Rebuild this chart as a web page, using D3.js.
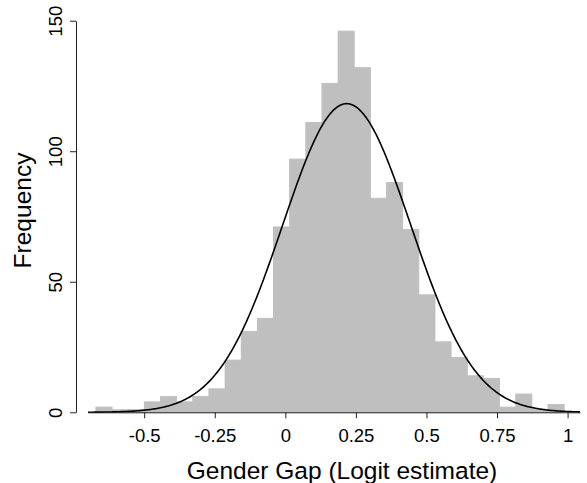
<!DOCTYPE html>
<html><head><meta charset="utf-8">
<script src="https://cdn.jsdelivr.net/npm/d3@7"></script>
<style>body{margin:0;background:#fff}</style>
</head><body><svg id="c" width="587" height="483"></svg>
<script>
const binStart = -0.671;
const binWidth = 0.0572;
const counts = [2,1,1,4,6,4,6,9,20,31,36,71,97,111,126,146,132,82,88,70,45,27,21,14,13,2,7,1,3];
const xTicks = [-0.5,-0.25,0,0.25,0.5,0.75,1];
const xTickLabels = ["-0.5","-0.25","0","0.25","0.5","0.75","1"];
const yTicks = [0,50,100,150];
const yTickLabels = ["0","50","100","150"];
const normalMean = 0.2175;
const normalSD = 0.227;
const xDomain = [-0.699, 1.044];
const xLabel = "Gender Gap (Logit estimate)";
const yLabel = "Frequency";

const font = "'Liberation Sans', Arial, Helvetica, sans-serif";
const svg = d3.select("#c");
const x = d3.scaleLinear().domain(xDomain).range([88, 580]);
const y = d3.scaleLinear().domain([0, 150]).range([412.3, 20.7]);

const bins = counts.map((c, i) => ({x0: binStart + i * binWidth, x1: binStart + (i + 1) * binWidth, c}));
svg.append("g").selectAll("rect").data(bins).join("rect")
  .attr("x", d => x(d.x0)).attr("width", d => x(d.x1) - x(d.x0))
  .attr("y", d => y(d.c)).attr("height", d => y(0) - y(d.c))
  .attr("fill", "#bfbfbf").attr("stroke", "#bfbfbf").attr("stroke-width", 0.9);

// normal density overlay scaled to frequency
const N = d3.sum(counts);
const pdf = v => Math.exp(-0.5 * ((v - normalMean) / normalSD) ** 2) / (normalSD * Math.sqrt(2 * Math.PI));
const curvePts = d3.range(0, 401).map(k => xDomain[0] + (xDomain[1] - xDomain[0]) * k / 400);
svg.append("path").datum(curvePts)
  .attr("d", d3.line().x(v => x(v)).y(v => y(N * binWidth * pdf(v))))
  .attr("fill", "none").attr("stroke", "#000").attr("stroke-width", 1.6);

// x axis
const gx = svg.append("g").attr("transform", `translate(0,${y(0)})`)
  .call(d3.axisBottom(x).tickValues(xTicks).tickFormat((d, i) => xTickLabels[i]).tickSize(6).tickSizeOuter(0));
gx.select(".domain").attr("stroke", "#222");
gx.selectAll(".tick line").attr("stroke", "#222");
gx.selectAll(".tick text").attr("y", 29.7).attr("dy", null)
  .attr("font-family", font).attr("font-size", 18.5).attr("fill", "#000");

// y axis
const gy = svg.append("g").attr("transform", "translate(76,0)")
  .call(d3.axisLeft(y).tickValues(yTicks).tickFormat((d, i) => yTickLabels[i]).tickSize(6).tickSizeOuter(0));
gy.select(".domain").attr("stroke", "#222");
gy.selectAll(".tick line").attr("stroke", "#222");
gy.selectAll(".tick text").attr("x", null).attr("dy", null).attr("y", null)
  .attr("transform", "translate(-14,0) rotate(-90)").attr("text-anchor", "middle")
  .attr("font-family", font).attr("font-size", 18.5).attr("fill", "#000");

svg.append("text").attr("x", 342).attr("y", 479).attr("text-anchor", "middle")
  .attr("font-family", font).attr("font-size", 24.5).attr("fill", "#000").text(xLabel);
svg.append("text").attr("transform", "translate(31,210.5) rotate(-90)").attr("text-anchor", "middle")
  .attr("font-family", font).attr("font-size", 24.5).attr("fill", "#000").text(yLabel);
</script></body></html>
